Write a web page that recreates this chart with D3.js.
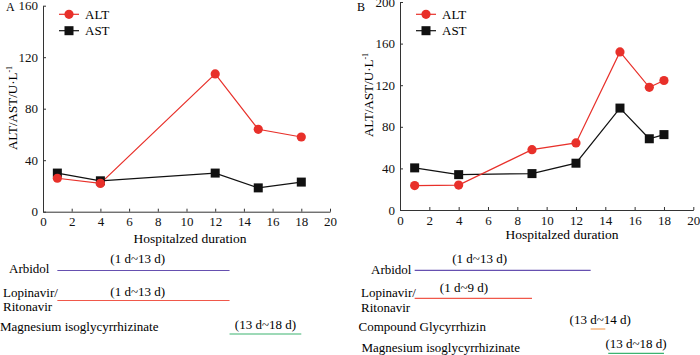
<!DOCTYPE html>
<html>
<head>
<meta charset="utf-8">
<script src="https://cdn.jsdelivr.net/npm/d3@7"></script>
<style>
  body { margin: 0; background: #fff; }
  svg { display: block; font-family: "Liberation Serif", "Times New Roman", serif; }
</style>
</head>
<body>
<div id="chart"></div>
<script>
// Panel A data
const daysA = [1, 4, 12, 15, 18];
const altA = [26, 22, 107, 64, 58];
const astA = [30, 24, 30, 18.5, 23];

// Panel B data
const daysB = [1, 4, 9, 12, 15, 17, 18];
const altB = [23.5, 24, 58, 64.5, 152, 118, 124.5];
const astB = [40.5, 34, 35, 45, 98, 68.5, 72.5];

// Tick labels
const xTicks = [0, 2, 4, 6, 8, 10, 12, 14, 16, 18, 20];
const yTicksA = [0, 40, 80, 120, 160];
const yTicksB = [0, 40, 80, 120, 160, 200];

// Medication periods (days)
const drugsA = [
  { name: ["Arbidol"], range: "(1 d~13 d)", start: 1, end: 13 },
  { name: ["Lopinavir/", "Ritonavir"], range: "(1 d~13 d)", start: 1, end: 13 },
  { name: ["Magnesium isoglycyrrhizinate"], range: "(13 d~18 d)", start: 13, end: 18 }
];
const drugsB = [
  { name: ["Arbidol"], range: "(1 d~13 d)", start: 1, end: 13 },
  { name: ["Lopinavir/", "Ritonavir"], range: "(1 d~9 d)", start: 1, end: 9 },
  { name: ["Compound Glycyrrhizin"], range: "(13 d~14 d)", start: 13, end: 14 },
  { name: ["Magnesium isoglycyrrhizinate"], range: "(13 d~18 d)", start: 14.2, end: 18 }
];

const drugColors = ["#6650b0", "#f0584a", "#f4a460", "#3cb371"];
const drugColorsA = ["#6650b0", "#f0584a", "#3cb371"];
const red = "#e8302a";
const black = "#111";

const svg = d3.select("#chart").append("svg")
  .attr("width", 700)
  .attr("height", 355);

// layout per panel (positions only)
const panels = [
  {
    tag: "A", tagX: 6, days: daysA, alt: altA, ast: astA, yTicks: yTicksA, yMax: 160,
    xRange: [43, 330], yRange: [211.7, 5.7],
    ylabX: 16.5, ylabY: 108, titleX: 190, titleY: 243,
    legX: 59, drugs: drugsA, colors: drugColorsA,
    rows: [
      { nameX: 9, nameY: [272.5], lineY: 270.5, labelDay: 6.6, labelY: 263 },
      { nameX: 3, nameY: [297, 310.5], lineY: 300.5, labelDay: 6.6, labelY: 296 },
      { nameX: 0, nameY: [331], lineY: 334, labelDay: 15.5, labelY: 328.5 }
    ]
  },
  {
    tag: "B", tagX: 357, days: daysB, alt: altB, ast: astB, yTicks: yTicksB, yMax: 200,
    xRange: [400, 693.3], yRange: [210, 2],
    ylabX: 373, ylabY: 95, titleX: 562, titleY: 238.5,
    legX: 416, drugs: drugsB, colors: drugColors,
    rows: [
      { nameX: 371, nameY: [273.5], lineY: 270.3, labelDay: 5.43, labelY: 263 },
      { nameX: 361, nameY: [297, 311.5], lineY: 298.3, labelDay: 4.36, labelY: 292 },
      { nameX: 358.5, nameY: [330.5], lineY: 329, labelDay: 13.65, labelY: 323.5 },
      { nameX: 361.5, nameY: [352], lineY: 353.3, labelDay: 16.1, labelY: 348 }
    ]
  }
];

panels.forEach(p => {
  const x = d3.scaleLinear().domain([0, 20]).range(p.xRange);
  const y = d3.scaleLinear().domain([0, p.yMax]).range(p.yRange);

  // axes with inward ticks
  const xAxis = svg.append("g")
    .attr("transform", `translate(0,${p.yRange[0]})`)
    .call(d3.axisBottom(x).tickValues(xTicks).tickSizeInner(-3).tickSizeOuter(0).tickPadding(5.5));
  const yAxis = svg.append("g")
    .attr("transform", `translate(${p.xRange[0]},0)`)
    .call(d3.axisLeft(y).tickValues(p.yTicks).tickSizeInner(-3).tickSizeOuter(0).tickPadding(5));
  [xAxis, yAxis].forEach(g => {
    g.selectAll("path, line").attr("stroke", "#333");
    g.selectAll("text")
      .style("font-family", "Liberation Serif, serif")
      .style("font-size", "13px")
      .attr("fill", "#111");
  });

  // panel tag
  svg.append("text")
    .attr("x", p.tagX).attr("y", 10.5)
    .style("font-size", "12px")
    .text(p.tag);

  // y label
  const yl = svg.append("text")
    .attr("transform", `translate(${p.ylabX},${p.ylabY}) rotate(-90)`)
    .attr("text-anchor", "middle")
    .style("font-size", "13px");
  yl.append("tspan").text("ALT/AST/U·L");
  yl.append("tspan").attr("dy", -5).style("font-size", "8px").text("-1");

  // x title
  svg.append("text")
    .attr("x", p.titleX).attr("y", p.titleY)
    .attr("text-anchor", "middle")
    .style("font-size", "13.5px")
    .text("Hospitalzed duration");

  const line = d3.line().x(d => x(d[0])).y(d => y(d[1]));
  const altPts = p.days.map((d, i) => [d, p.alt[i]]);
  const astPts = p.days.map((d, i) => [d, p.ast[i]]);

  svg.append("path").datum(astPts)
    .attr("d", line).attr("fill", "none").attr("stroke", black).attr("stroke-width", 1.2);
  svg.append("path").datum(altPts)
    .attr("d", line).attr("fill", "none").attr("stroke", red).attr("stroke-width", 1.2);

  svg.selectAll(null).data(astPts).enter().append("rect")
    .attr("x", d => x(d[0]) - 4.5).attr("y", d => y(d[1]) - 4.5)
    .attr("width", 9).attr("height", 9)
    .attr("fill", black);
  svg.selectAll(null).data(altPts).enter().append("circle")
    .attr("cx", d => x(d[0])).attr("cy", d => y(d[1]))
    .attr("r", 4.6)
    .attr("fill", red);

  // legend
  const leg = [
    { name: "ALT", color: red, shape: "circle", y: 14.3 },
    { name: "AST", color: black, shape: "rect", y: 30.7 }
  ];
  leg.forEach(l => {
    svg.append("line")
      .attr("x1", p.legX).attr("x2", p.legX + 20)
      .attr("y1", l.y).attr("y2", l.y)
      .attr("stroke", l.color).attr("stroke-width", 1.2);
    if (l.shape === "circle") {
      svg.append("circle").attr("cx", p.legX + 10).attr("cy", l.y).attr("r", 4.6).attr("fill", l.color);
    } else {
      svg.append("rect").attr("x", p.legX + 5.5).attr("y", l.y - 4.5)
        .attr("width", 9).attr("height", 9).attr("fill", l.color);
    }
    svg.append("text")
      .attr("x", p.legX + 26).attr("y", l.y + 4.5)
      .style("font-size", "13px")
      .text(l.name);
  });

  // medication periods
  p.drugs.forEach((d, i) => {
    const r = p.rows[i];
    d.name.forEach((n, k) => {
      svg.append("text")
        .attr("x", r.nameX).attr("y", r.nameY[k])
        .style("font-size", "13px")
        .text(n);
    });
    svg.append("line")
      .attr("x1", x(d.start)).attr("x2", x(d.end))
      .attr("y1", r.lineY).attr("y2", r.lineY)
      .attr("stroke", p.colors[i]).attr("stroke-width", 1.2);
    svg.append("text")
      .attr("x", x(r.labelDay)).attr("y", r.labelY)
      .attr("text-anchor", "middle")
      .style("font-size", "13px")
      .text(d.range);
  });
});
</script>
</body>
</html>
